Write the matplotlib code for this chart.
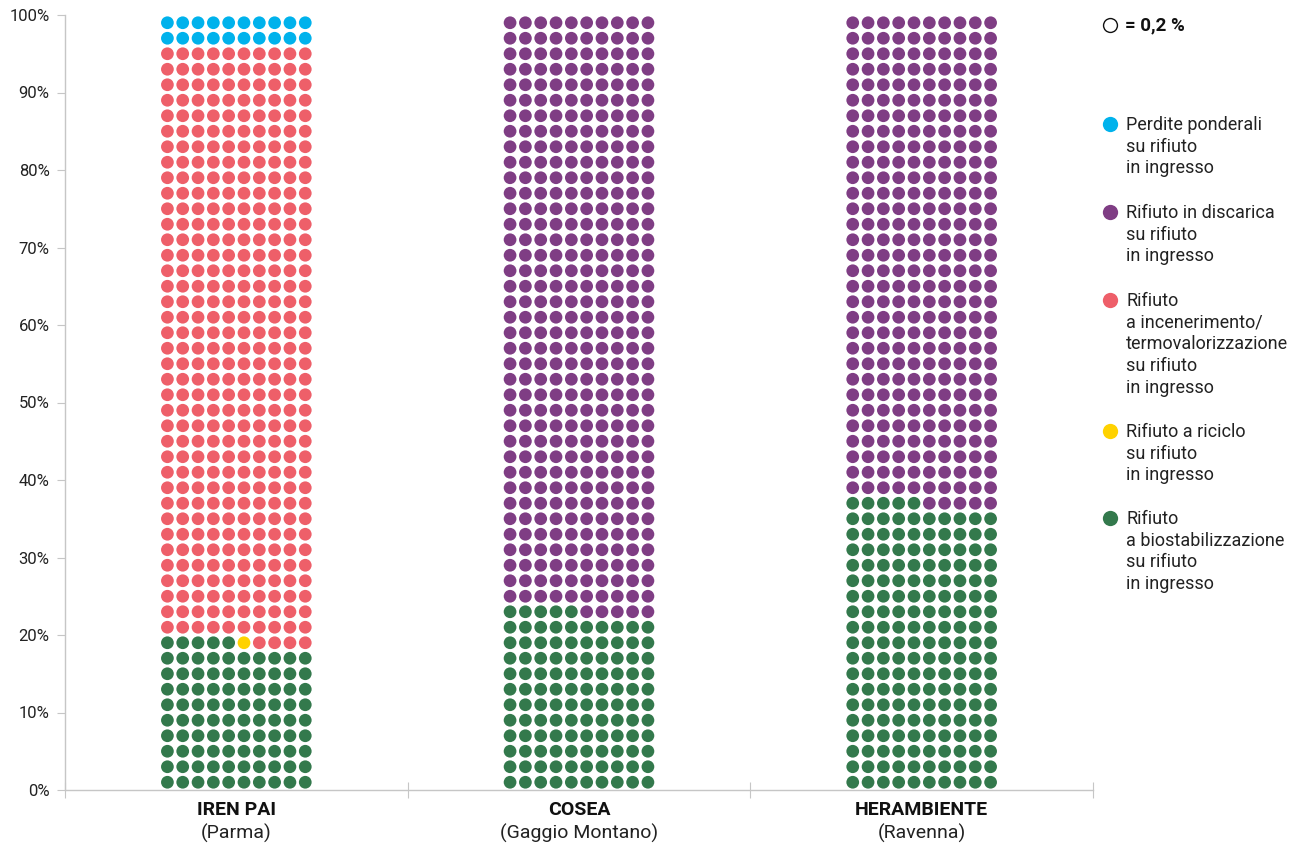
import matplotlib
matplotlib.use("Agg")
import matplotlib.pyplot as plt

plt.rcParams['font.family'] = ['Roboto', 'DejaVu Sans']

# Data (percent, each dot = 0.2 %)
plants = ["IREN PAI", "COSEA", "HERAMBIENTE"]
places = ["(Parma)", "(Gaggio Montano)", "(Ravenna)"]

biostab = [19.0, 23.0, 37.0]
riciclo = [0.2, 0.0, 0.0]
incener = [76.8, 0.0, 0.0]
discarica = [0.0, 77.0, 63.0]
perdite = [4.0, 0.0, 0.0]

# stacking order from the bottom
series = [biostab, riciclo, incener, discarica, perdite]
colors = ["#33794c", "#ffd200", "#ee5f69", "#7f3d84", "#00b2ec"]

legend_labels = [
    "Perdite ponderali\nsu rifiuto\nin ingresso",
    "Rifiuto in discarica\nsu rifiuto\nin ingresso",
    "Rifiuto\na incenerimento/\ntermovalorizzazione\nsu rifiuto\nin ingresso",
    "Rifiuto a riciclo\nsu rifiuto\nin ingresso",
    "Rifiuto\na biostabilizzazione\nsu rifiuto\nin ingresso",
]
legend_colors = ["#00b2ec", "#7f3d84", "#ee5f69", "#ffd200", "#33794c"]

unit = 0.2
cols = 10
dx = 0.0447

fig = plt.figure(figsize=(12.98, 8.5), dpi=100)
ax = fig.add_axes([65 / 1298, 1 - 790 / 850, (1093 - 65) / 1298, 775 / 850])

for i in range(len(plants)):
    k = 0
    for vals, c in zip(series, colors):
        n = int(round(vals[i] / unit))
        xs, ys = [], []
        for _ in range(n):
            row, col = divmod(k, cols)
            xs.append(i + 0.5 + (col - 4.5) * dx)
            ys.append(1 + 2 * row)
            k += 1
        if xs:
            ax.scatter(xs, ys, s=84, color=c, edgecolors='none', zorder=3)

ax.set_xlim(0, 3)
ax.set_ylim(0, 100)
ax.set_yticks(range(0, 101, 10))
ax.set_yticklabels([f"{v}%" for v in range(0, 101, 10)])
ax.set_xticks([0, 1, 2, 3])
ax.set_xticklabels([])

for s in ['top', 'right']:
    ax.spines[s].set_visible(False)
for s in ['left', 'bottom']:
    ax.spines[s].set_color('#c6c6c6')
    ax.spines[s].set_linewidth(1.0)
ax.tick_params(axis='y', length=6, color='#c6c6c6', labelsize=12,
               labelcolor='#222222', pad=5)
ax.tick_params(axis='x', direction='inout', length=12, color='#c6c6c6')

for i, (p, loc) in enumerate(zip(plants, places)):
    ax.text(i + 0.5, -1.4, p, ha='center', va='top', fontsize=14,
            fontweight='bold', color='#111111')
    ax.text(i + 0.5, -4.3, loc, ha='center', va='top', fontsize=14,
            color='#222222')

# legend
def fx(px):
    return px / 1298

def fy(py):
    return 1 - py / 850

fig.lines.append(plt.Line2D([fx(1110)], [fy(25)], marker='o', markersize=10,
                            markerfacecolor='white', markeredgecolor='#111111',
                            markeredgewidth=1.0, transform=fig.transFigure))
fig.text(fx(1125), fy(25), "= 0,2 %", fontsize=13.5, fontweight='bold',
         va='center', ha='left', color='#111111')

tops = [124, 212, 300, 431, 518]
for lab, c, t in zip(legend_labels, legend_colors, tops):
    fig.lines.append(plt.Line2D([fx(1110)], [fy(t)], marker='o', markersize=11,
                                color=c, markeredgewidth=0,
                                transform=fig.transFigure))
    fig.text(fx(1126), fy(t - 8), lab, fontsize=13, va='top', ha='left',
             linespacing=1.26, color='#222222')

fig.savefig("out.png", dpi=100)
